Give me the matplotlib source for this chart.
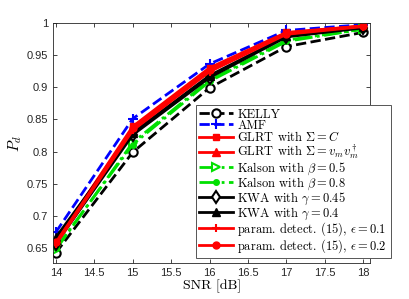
import numpy as np
import matplotlib
matplotlib.use('Agg')
import matplotlib.pyplot as plt

plt.rcParams['mathtext.fontset'] = 'cm'
plt.rcParams['font.family'] = ['Liberation Sans', 'DejaVu Sans']

snr = [14, 15, 16, 17, 18]
kelly = [0.643, 0.799, 0.899, 0.963, 0.985]
amf = [0.675, 0.851, 0.936, 0.988, 0.997]
glrt_c = [0.660, 0.839, 0.930, 0.985, 0.995]
glrt_v = [0.662, 0.836, 0.927, 0.984, 0.995]
kal_05 = [0.648, 0.814, 0.911, 0.973, 0.990]
kal_08 = [0.650, 0.811, 0.909, 0.971, 0.990]
kwa_045 = [0.657, 0.826, 0.915, 0.978, 0.992]
kwa_04 = [0.667, 0.829, 0.918, 0.979, 0.993]
par_01 = [0.656, 0.833, 0.924, 0.982, 0.994]
par_02 = [0.659, 0.836, 0.927, 0.983, 0.995]

labels = ['KELLY', 'AMF', r'GLRT with $\Sigma = C$',
          r'GLRT with $\Sigma = v_m v_m^\dagger$',
          r'Kalson with $\beta = 0.5$', r'Kalson with $\beta = 0.8$',
          r'KWA with $\gamma = 0.45$', r'KWA with $\gamma = 0.4$',
          r'param. detect. (15), $\epsilon = 0.1$',
          r'param. detect. (15), $\epsilon = 0.2$']

green = '#00e000'
fig = plt.figure(figsize=(4.09, 2.99), dpi=100)
ax = fig.add_axes([0.13, 0.12, 0.775, 0.804])

lw = 2
ax.plot(snr, kelly, '--', color='black', lw=lw, marker='o', mfc='white', mec='black', mew=1.5, ms=6, label=labels[0])
ax.plot(snr, amf, '--', color='blue', lw=lw, marker='+', mew=1.5, ms=7, label=labels[1])
ax.plot(snr, glrt_c, '-', color='red', lw=lw, marker='s', ms=5, label=labels[2])
ax.plot(snr, glrt_v, '-', color='red', lw=lw, marker='^', ms=6, label=labels[3])
ax.plot(snr, kal_05, '-.', color=green, lw=lw, marker='>', mfc='white', mec=green, mew=1.5, ms=6, label=labels[4])
ax.plot(snr, kal_08, '-.', color=green, lw=lw, marker='o', ms=4, label=labels[5])
ax.plot(snr, kwa_045, '-', color='black', lw=lw, marker='d', mfc='white', mec='black', mew=1.5, ms=6, label=labels[6])
ax.plot(snr, kwa_04, '-', color='black', lw=lw, marker='^', ms=6, label=labels[7])
ax.plot(snr, par_01, '-', color='red', lw=lw, marker='+', mew=1.5, ms=6, label=labels[8])
ax.plot(snr, par_02, '-', color='red', lw=lw, marker='o', ms=5, label=labels[9])

ax.set_xlim(13.965, 18.09)
ax.set_ylim(0.627, 1.0)
ax.set_xticks([14, 14.5, 15, 15.5, 16, 16.5, 17, 17.5, 18])
ax.set_xticklabels(['14', '14.5', '15', '15.5', '16', '16.5', '17', '17.5', '18'])
ax.set_yticks([0.65, 0.7, 0.75, 0.8, 0.85, 0.9, 0.95, 1])
ax.set_yticklabels(['0.65', '0.7', '0.75', '0.8', '0.85', '0.9', '0.95', '1'])
ax.tick_params(direction='in', top=True, right=True, labelsize=8, colors='#262626', length=3, width=0.6)
for s in ax.spines.values():
    s.set_color('#262626')
    s.set_linewidth(0.6)

ax.set_xlabel('SNR [dB]', family='cmr10', fontsize=10, labelpad=1)
ax.set_ylabel(r'$P_d$', fontsize=11, labelpad=2)

leg = fig.legend(loc='upper left', bbox_to_anchor=(0.478, 0.649), fancybox=False,
                 framealpha=1, edgecolor='#555555', handlelength=2.7, handletextpad=0.35,
                 labelspacing=-0.1, borderpad=0.3, borderaxespad=0,
                 prop={'family': 'cmr10', 'size': 9})
leg.get_frame().set_linewidth(0.7)

fig.savefig('out.png', dpi=100)
